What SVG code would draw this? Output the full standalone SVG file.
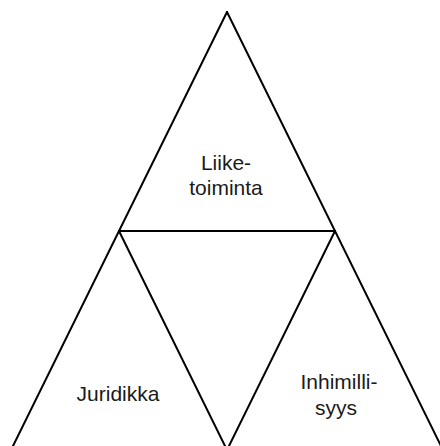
<svg xmlns="http://www.w3.org/2000/svg" width="440" height="446" viewBox="0 0 440 446">
<style>
.l{stroke:#000;stroke-width:2;fill:none;stroke-linecap:round}
.t{font-family:"Liberation Sans",Arial,sans-serif;font-size:21px;fill:#1a1a1a;text-anchor:middle}
</style>
<rect width="440" height="446" fill="#fff"/>
<g id="connectors">
<path class="l" d="M227,12 L12,448"/>
<path class="l" d="M227,12 L442,448"/>
<path class="l" d="M119,231 L335,231"/>
<path class="l" d="M119,231 L227,450"/>
<path class="l" d="M335,231 L227,450"/>
</g>
<g id="liiketoiminta">
<text class="t" x="226" y="170">Liike-</text>
<text class="t" x="226" y="195">toiminta</text>
</g>
<g id="juridikka">
<text class="t" x="118" y="401">Juridikka</text>
</g>
<g id="inhimillisyys">
<text class="t" x="339" y="389">Inhimilli-</text>
<text class="t" x="336" y="415">syys</text>
</g>
</svg>
